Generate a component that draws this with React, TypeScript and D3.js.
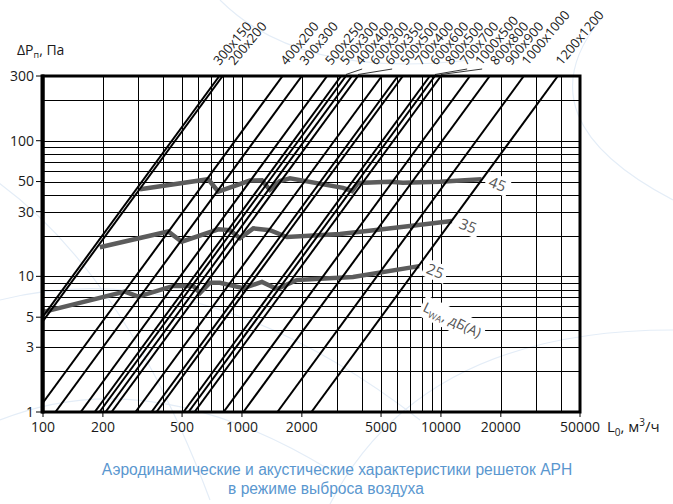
import React from "react";
import * as d3 from "d3";

// Grille sizes (mm) and the airflow, m³/h, at which each one reaches 300 Pa
const grilleSizes = [
  "300x150", "200x200", "400x200", "300x300", "500x250", "500x300", "400x400",
  "600x300", "600x350", "500x500", "700x400", "600x600", "800x500", "700x700",
  "1000x500", "800x800", "900x900", "1000x1000", "1200x1200",
];
const flowAt300Pa = [
  770, 800, 1600, 2000, 2680, 3150, 3330, 3570, 3830, 5050, 6080, 6440, 8800,
  9330, 10000, 14000, 17600, 26100, 38700,
];
const leaderSizes = ["400x400", "600x350", "700x700", "1000x500"];

// Sound power level curves: [airflow m³/h, pressure loss Pa]
const level45: [number, number][] = [
  [307, 43.9], [677, 52], [760, 42.1], [1097, 50.8], [1260, 51], [1382, 43.4],
  [1552, 50.5], [1743, 52.9], [3218, 44.9], [3572, 42.6], [3828, 48.8],
  [5540, 49.9], [6440, 48.9], [9890, 49.9], [16000, 52],
];
const level35: [number, number][] = [
  [193, 16.4], [426, 21.4], [498, 18], [760, 22.2], [870, 21.9], [977, 19.1],
  [1140, 22.6], [1382, 21.9], [1683, 19.5], [3108, 20.5], [4715, 22],
  [6987, 23.5], [11360, 25.6],
];
const level25: [number, number][] = [
  [102, 5.49], [258, 7.71], [301, 7.09], [452, 8.5], [569, 8.5], [615, 7.54],
  [691, 8.98], [775, 8.98], [1015, 8.17], [1260, 9.09], [1499, 8.07],
  [1890, 9.41], [3613, 9.9], [7780, 11.9],
];
const levelNames = ["45", "35", "25"];
const levelCurves = [level45, level35, level25];

const xTickLabels = [100, 200, 500, 1000, 2000, 5000, 10000, 20000, 50000];
const yTickLabels = [1, 3, 5, 10, 30, 50, 100, 300];

const captionLines = [
  "Аэродинамические и акустические характеристики решеток АРН",
  "в режиме выброса воздуха",
];

const W = 673;
const H = 504;
const X0 = 43, X1 = 580, Y0 = 76, Y1 = 412;
const NUM_FONT = "'Open Sans', 'Noto Sans', sans-serif";
const CAPTION_X = [337, 326];

export default function App() {
  const x = d3.scaleLog().domain([100, 50000]).range([X0, X1]);
  const y = d3.scaleLog().domain([1, 300]).range([Y1, Y0]);

  const xGrid = x.ticks().filter((v) => v > 100 && v < 50000);
  const yGrid = y.ticks().filter((v) => v > 1 && v < 300);

  const line = d3
    .line<[number, number]>()
    .x((d) => x(d[0]))
    .y((d) => y(d[1]));

  // each grille: pressure loss grows with the square of the airflow
  const pressures = [1, 300];
  const grilleLines = flowAt300Pa.map((q300) =>
    pressures.map((p) => [q300 * Math.sqrt(p / 300), p] as [number, number])
  );

  // size labels along the top edge, pushed apart so they do not collide
  const labelX: number[] = [];
  flowAt300Pa.forEach((q, i) => {
    const want = x(q) + 4;
    labelX.push(i === 0 ? want - 4 : Math.max(want, labelX[i - 1] + 15));
  });

  const endOf = (c: [number, number][]) => c[c.length - 1];

  return (
    <svg
      width={W}
      height={H}
      viewBox={`0 0 ${W} ${H}`}
      style={{ position: "absolute", left: 0, top: 0, background: "#fff" }}
    >
      <defs>
        <clipPath id="plot">
          <rect x={X0} y={Y0} width={X1 - X0} height={Y1 - Y0} />
        </clipPath>
      </defs>

      {/* faint decorative arcs in the page background */}
      <g fill="none" stroke="#e4edf7" strokeWidth={1.2}>
        <path d="M -20 170 Q 120 260 210 500" />
        <path d="M 0 300 Q 200 250 420 420" />
        <path d="M 220 0 Q 300 80 470 60" />
        <path d="M 600 20 Q 520 120 673 200" />
        <path d="M 330 504 Q 420 330 673 330" />
        <path d="M 0 420 Q 150 360 330 470" />
      </g>

      {/* grid */}
      <g stroke="#000" strokeWidth={1} shapeRendering="crispEdges">
        {xGrid.map((v) => (
          <line key={"gx" + v} x1={Math.round(x(v)) + 0.5} x2={Math.round(x(v)) + 0.5} y1={Y0} y2={Y1} />
        ))}
        {yGrid.map((v) => (
          <line key={"gy" + v} x1={X0} x2={X1} y1={Math.round(y(v)) + 0.5} y2={Math.round(y(v)) + 0.5} />
        ))}
      </g>

      {/* white boxes under the curve labels */}
      <g fill="#fff">
        {levelCurves.map((c, i) => {
          const e = endOf(c);
          return (
            <rect
              key={"lb" + i}
              x={-12}
              y={-9}
              width={24}
              height={18}
              transform={`translate(${x(e[0]) + 16},${y(e[1]) + 5}) rotate(22)`}
            />
          );
        })}
        <rect
          x={-34}
          y={-11}
          width={68}
          height={22}
          transform={`translate(${x(endOf(level25)[0]) + 33},${y(endOf(level25)[1]) + 54}) rotate(26)`}
        />
      </g>

      {/* sound level curves */}
      <g clipPath="url(#plot)" fill="none" stroke="#5c5c5c" strokeWidth={4.5}>
        {levelCurves.map((c, i) => (
          <path key={"lv" + i} d={line(c) ?? ""} />
        ))}
      </g>

      {/* grille characteristic lines */}
      <g clipPath="url(#plot)" fill="none" stroke="#000" strokeWidth={2}>
        {grilleLines.map((pts, i) => (
          <path key={"gl" + i} d={line(pts) ?? ""} />
        ))}
      </g>

      {/* frame */}
      <rect x={X0} y={Y0} width={X1 - X0} height={Y1 - Y0} fill="none" stroke="#000" strokeWidth={3} />
      <line x1={X0 - 0.5} x2={X0 - 0.5} y1={Y0 - 1.5} y2={Y1 + 1.5} stroke="#000" strokeWidth={4} />

      {/* axis ticks */}
      <g stroke="#000" strokeWidth={1}>
        {yTickLabels.map((v) => (
          <line key={"ty" + v} x1={X0 - 7} x2={X0} y1={y(v)} y2={y(v)} />
        ))}
        {xTickLabels.map((v) => (
          <line key={"tx" + v} x1={x(v)} x2={x(v)} y1={Y1} y2={Y1 + 5} />
        ))}
      </g>

      {/* tick labels */}
      <g fontFamily={NUM_FONT} fontSize={14} fill="#1a1a1a">
        {yTickLabels.map((v) => (
          <text key={"ly" + v} x={X0 - 9} y={y(v)} dy="0.35em" textAnchor="end">
            {v}
          </text>
        ))}
        {xTickLabels.map((v) => (
          <text key={"lx" + v} x={x(v)} y={432} textAnchor="middle">
            {v}
          </text>
        ))}
      </g>

      {/* axis titles */}
      <text x={17} y={55} fontFamily={NUM_FONT} fontSize={14} fill="#1a1a1a">
        ΔP
        <tspan fontSize={9} dy={3}>п</tspan>
        <tspan dy={-3}>, Па</tspan>
      </text>
      <text x={607} y={432} fontFamily={NUM_FONT} fontSize={15} fill="#1a1a1a">
        L
        <tspan fontSize={10} dy={4}>0</tspan>
        <tspan dy={-4}>, м</tspan>
        <tspan fontSize={10} dy={-6}>3</tspan>
        <tspan dy={6}>/ч</tspan>
      </text>

      {/* grille size labels */}
      <g fontFamily={NUM_FONT} fontSize={13} fill="#1a1a1a">
        {grilleSizes.map((s, i) => (
          <text key={"sz" + s} transform={`translate(${labelX[i]},66) rotate(-50)`}>
            {s.replace("x", "х")}
          </text>
        ))}
      </g>
      <g stroke="#000" strokeWidth={0.8}>
        {grilleSizes.map((s, i) =>
          leaderSizes.includes(s) ? (
            <line key={"ld" + s} x1={x(flowAt300Pa[i])} y1={Y0 - 1.5} x2={labelX[i] + 1} y2={69} />
          ) : null
        )}
      </g>

      {/* sound level labels */}
      <g fontFamily={NUM_FONT} fontSize={15} fill="#555">
        {levelCurves.map((c, i) => {
          const e = endOf(c);
          return (
            <text
              key={"ln" + i}
              transform={`translate(${x(e[0]) + 16},${y(e[1]) + 5}) rotate(22)`}
              textAnchor="middle"
              dy="0.35em"
            >
              {levelNames[i]}
            </text>
          );
        })}
        <text
          transform={`translate(${x(endOf(level25)[0]) + 33},${y(endOf(level25)[1]) + 54}) rotate(26)`}
          textAnchor="middle"
          dy="0.35em"
          fontSize={14}
        >
          L<tspan fontSize={9} dy={3}>WA</tspan>
          <tspan dy={-3}>, дБ(А)</tspan>
        </text>
      </g>

      {/* caption */}
      <g fontFamily="'Liberation Sans', Arial, sans-serif" fontSize={15.6} fill="#5a97cf" textAnchor="middle">
        {captionLines.map((t, i) => (
          <text key={"cap" + i} x={CAPTION_X[i]} y={475 + i * 19}>
            {t}
          </text>
        ))}
      </g>
    </svg>
  );
}
